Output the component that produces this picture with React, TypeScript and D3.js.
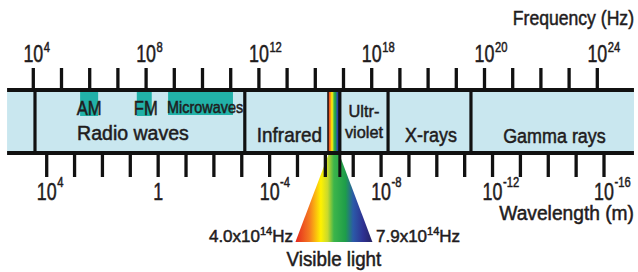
import React from "react";
import * as d3 from "d3";

// ---- data ----
const tickIndex = d3.range(21);
const freqLabelPos = [0, 4, 8, 12, 16, 20];
const freqLabelBase = ["10", "10", "10", "10", "10", "10"];
const freqLabelExp = ["4", "8", "12", "18", "20", "24"];
const waveLabelPos = [0, 4, 8, 12, 16, 20];
const waveLabelBase = ["10", "1", "10", "10", "10", "10"];
const waveLabelExp = ["4", "", "-4", "-8", "-12", "-16"];

const regionNames = ["", "Radio waves", "Infrared", "Visible", "Ultr-|violet", "X-rays", "Gamma rays"];
const regionStart = [-0.93, 0.06, 7.5, 10.45, 10.87, 12.58, 15.52];
const regionEnd = [0.06, 7.5, 10.45, 10.87, 12.58, 15.52, 21.3];

const subNames = ["AM", "FM", "Microwaves"];
const subStart = [1.66, 3.67, 4.78];
const subEnd = [2.3, 4.2, 7.08];

const spectrumColors = ["#e4261f", "#f47920", "#fff200", "#c8d92e", "#3cb54a", "#1e9d4a", "#2b5aa8", "#2e3192", "#262262"];
const spectrumStops = [0, 0.18, 0.33, 0.42, 0.5, 0.65, 0.75, 0.88, 1];

const FONT = "'Liberation Sans', Arial, Helvetica, sans-serif";
const INK = "#1f1c1d";

function CText(props: {
  x: number; y: number; size: number; sx?: number; anchor?: "start" | "middle" | "end"; children: React.ReactNode;
}) {
  const { x, y, size, sx = 1, anchor = "start", children } = props;
  return (
    <g transform={`translate(${x},${y}) scale(${sx},1)`}>
      <text textAnchor={anchor} fontSize={size} fill={INK} stroke={INK} strokeWidth={0.5} fontFamily={FONT}>
        {children}
      </text>
    </g>
  );
}

export default function App() {
  const W = 638, H = 272;
  const xTop = d3.scaleLinear().domain([0, 20]).range([33.3, 597.3]);
  const xBot = d3.scaleLinear().domain([0, 20]).range([46.7, 604]);
  const topLineY = 90, botLineY = 153;
  const bandTop = 92, bandBot = 151;

  const visIdx = regionNames.indexOf("Visible");
  const vx0 = xTop(regionStart[visIdx]);
  const vx1 = xTop(regionEnd[visIdx]);
  const vc = (vx0 + vx1) / 2;
  const mid = (i: number) => (xTop(regionStart[i]) + xTop(regionEnd[i])) / 2;

  const tickLabel = (x: number, y: number, base: string, sup: string, supDy: number, key: string) => (
    <g key={key}>
      <CText x={x} y={y} size={23.5} sx={0.76} anchor="middle">{base}</CText>
      {sup && (
        <CText x={x + (base === "10" ? 10.5 : 4)} y={y + supDy} size={14} sx={0.8}>{sup}</CText>
      )}
    </g>
  );

  return (
    <svg width={W} height={H} style={{ position: "absolute", left: 0, top: 0, background: "#fff" }}>
      <defs>
        <linearGradient id="spec" x1="0" x2="1" y1="0" y2="0">
          {spectrumStops.map((s, i) => (
            <stop key={i} offset={s} stopColor={spectrumColors[i]} />
          ))}
        </linearGradient>
      </defs>

      {/* band background */}
      <rect x={xTop(regionStart[0])} y={bandTop} width={xTop(regionEnd[regionEnd.length - 1]) - xTop(regionStart[0])} height={bandBot - bandTop} fill="#c9e7ef" />

      {/* sub bands */}
      {subNames.map((n, i) => (
        <rect key={n} x={xTop(subStart[i])} y={bandTop} width={xTop(subEnd[i]) - xTop(subStart[i])} height={n === "Microwaves" ? 23 : 24} fill="#22b1a8" />
      ))}

      {/* visible strip */}
      <rect x={vx0} y={bandTop} width={vx1 - vx0} height={bandBot - bandTop} fill="url(#spec)" />

      {/* visible triangle */}
      <polygon points={`${vx0 + 1},${botLineY} ${vx1 - 1},${botLineY} ${vc + 38.5},242 ${vc - 38.5},242`} fill="url(#spec)" />

      {/* axis lines */}
      <line x1={xTop(regionStart[0])} x2={xTop(regionEnd[regionEnd.length - 1])} y1={topLineY} y2={topLineY} stroke="#111" strokeWidth={4} />
      <line x1={xTop(regionStart[0])} x2={xTop(regionEnd[regionEnd.length - 1])} y1={botLineY} y2={botLineY} stroke="#111" strokeWidth={4} />

      {/* dividers */}
      {regionStart.slice(1).map((s, i) => (
        <line key={i} x1={xTop(s)} x2={xTop(s)} y1={topLineY} y2={botLineY} stroke="#111" strokeWidth={regionNames[i + 1] === "Visible" ? 1.5 : 3.2} />
      ))}
      <line x1={vx1} x2={vx1} y1={botLineY} y2={177} stroke="#111" strokeWidth={3} />

      {/* ticks */}
      {tickIndex.map((i) => (
        <line key={"t" + i} x1={xTop(i)} x2={xTop(i)} y1={68} y2={topLineY} stroke="#111" strokeWidth={3.3} />
      ))}
      {tickIndex.map((i) => (
        <line key={"b" + i} x1={xBot(i)} x2={xBot(i)} y1={botLineY} y2={177} stroke="#111" strokeWidth={3.3} />
      ))}

      {/* tick labels */}
      {freqLabelPos.map((p, i) => tickLabel(xTop(p), 62, freqLabelBase[i], freqLabelExp[i], -10, "f" + i))}
      {waveLabelPos.map((p, i) => tickLabel(xBot(p), 200, waveLabelBase[i], waveLabelExp[i], -13.5, "w" + i))}

      {/* sub-band labels */}
      <CText x={(xTop(subStart[0]) + xTop(subEnd[0])) / 2} y={115} size={19.5} sx={0.85} anchor="middle">{subNames[0]}</CText>
      <CText x={(xTop(subStart[1]) + xTop(subEnd[1])) / 2 + 1.5} y={115} size={19.5} sx={0.85} anchor="middle">{subNames[1]}</CText>
      <CText x={xTop(subStart[2]) - 1} y={113} size={16} sx={0.9}>{subNames[2]}</CText>

      {/* region labels */}
      <CText x={xTop(subStart[0]) - 3} y={140} size={19.5}>{regionNames[1]}</CText>
      <CText x={mid(2) + 3} y={141.5} size={19.5} sx={0.97} anchor="middle">{regionNames[2]}</CText>
      {regionNames[4].split("|").map((t, k) => (
        <CText key={t} x={mid(4)} y={116.5 + k * 21.5} size={17} sx={0.96} anchor="middle">{t}</CText>
      ))}
      <CText x={mid(5) + 1.5} y={141.5} size={19.5} sx={0.92} anchor="middle">{regionNames[5]}</CText>
      <CText x={mid(6) + 2} y={143} size={19.5} sx={0.92} anchor="middle">{regionNames[6]}</CText>

      {/* axis titles */}
      <CText x={634} y={25} size={20} sx={0.88} anchor="end">Frequency (Hz)</CText>
      <CText x={634} y={220} size={20} sx={0.96} anchor="end">Wavelength (m)</CText>

      {/* visible light annotations */}
      <CText x={293} y={242} size={17} anchor="end">
        4.0x10<tspan dy={-7} fontSize={11}>14</tspan><tspan dy={7}>Hz</tspan>
      </CText>
      <CText x={376} y={242} size={17}>
        7.9x10<tspan dy={-7} fontSize={11}>14</tspan><tspan dy={7}>Hz</tspan>
      </CText>
      <CText x={vc} y={265.5} size={20} sx={0.94} anchor="middle">Visible light</CText>
    </svg>
  );
}
